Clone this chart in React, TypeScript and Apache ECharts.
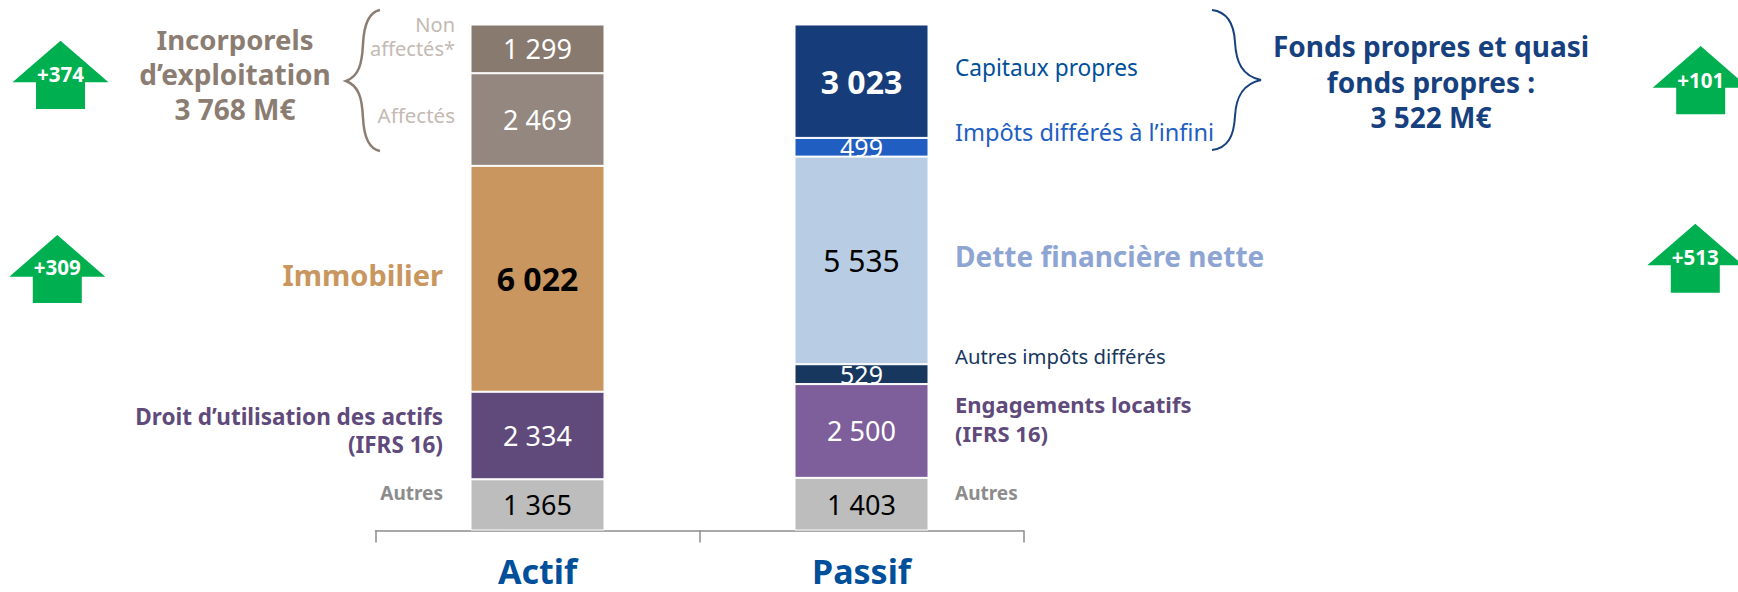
import React, { useEffect, useRef } from "react";
import * as echarts from "echarts";

const categories = ["Actif", "Passif"];
const actifNames = ["Autres", "Droit d'utilisation des actifs (IFRS 16)", "Immobilier", "Affectés", "Non affectés*"];
const actifValues = [1365, 2334, 6022, 2469, 1299];
const actifColors = ["#BDBDBD", "#604A7B", "#C99660", "#93877F", "#887A6F"];
const actifLabelColors = ["#000", "#fff", "#000", "#fff", "#fff"];
const actifBold = [false, false, true, false, false];
const actifSizes = [27, 27, 32, 27, 27];
const passifNames = ["Autres", "Engagements locatifs (IFRS 16)", "Autres impôts différés", "Dette financière nette", "Impôts différés à l'infini", "Capitaux propres"];
const passifValues = [1403, 2500, 529, 5535, 499, 3023];
const passifColors = ["#BDBDBD", "#7F5F9B", "#17375E", "#B8CCE4", "#215EC2", "#163C7A"];
const passifLabelColors = ["#000", "#fff", "#fff", "#000", "#fff", "#fff"];
const passifBold = [false, false, false, false, false, true];
const passifSizes = [27, 27, 25, 30, 25, 32];

const FONT = '"Noto Sans", sans-serif';
const fmt = (v: number) => String(v).replace(/\B(?=(\d{3})+$)/g, " ");

echarts.graphic.registerShape(
  "braceLeft",
  echarts.graphic.extendPath(
    "M380 10 C369 12 364 24 363 44 C362 64 359 76 346 81 C359 86 362 98 363 118 C364 138 369 149 380 151",
    {}
  )
);
echarts.graphic.registerShape(
  "braceRight",
  echarts.graphic.extendPath(
    "M1212 10 C1228 12 1234 24 1235 42 C1236 62 1242 76 1261 80 C1242 84 1236 98 1235 116 C1234 136 1228 148 1212 150",
    {}
  )
);

const txt = (text: string, x: number, y: number, size: number, fill: string, align = "left", bold = false) => ({
  type: "text",
  x,
  y,
  silent: true,
  style: { text, fill, fontSize: size, fontFamily: FONT, fontWeight: bold ? "bold" : "normal", align, verticalAlign: "middle" },
});

const arrow = (cx: number, top: number, wing: number, bottom: number, label: string, labelY: number) => [
  {
    type: "polygon",
    silent: true,
    shape: {
      points: [
        [cx, top],
        [cx + 48, wing],
        [cx + 24.5, wing],
        [cx + 24.5, bottom],
        [cx - 24.5, bottom],
        [cx - 24.5, wing],
        [cx - 48, wing],
      ],
    },
    style: { fill: "#00B050" },
  },
  txt(label, cx, labelY, 20.5, "#fff", "center", true),
];

function barSeries(names: string[], values: number[], colors: string[], labelColors: string[], bold: boolean[], sizes: number[], idx: number) {
  return values.map((v, i) => ({
    name: names[i],
    type: "bar",
    stack: "total",
    barWidth: 134,
    data: categories.map((_, c) => (c === idx ? v : null)),
    itemStyle: { color: colors[i], borderColor: "#fff", borderWidth: 1 },
    label: {
      show: true,
      position: "inside",
      formatter: (p: any) => fmt(p.value),
      color: labelColors[i],
      fontFamily: FONT,
      fontSize: sizes[i],
      fontWeight: bold[i] ? "bold" : "normal",
    },
  }));
}

export default function App() {
  const ref = useRef<HTMLDivElement>(null);
  useEffect(() => {
    document.body.style.margin = "0";
    const chart = echarts.init(ref.current!, undefined, { renderer: "svg" });
    chart.setOption({
      animation: false,
      backgroundColor: "#fff",
      grid: { left: 375.5, width: 648, top: 24.5, height: 506 },
      xAxis: {
        type: "category",
        data: categories,
        axisLine: { lineStyle: { color: "#8C8C8C", width: 1.5 } },
        axisTick: { show: true, length: 12, lineStyle: { color: "#8C8C8C", width: 1.5 } },
        axisLabel: { color: "#004F9B", fontFamily: FONT, fontWeight: "bold", fontSize: 34, margin: 23 },
      },
      yAxis: { type: "value", min: 0, max: 13489, show: false },
      series: [
        ...barSeries(actifNames, actifValues, actifColors, actifLabelColors, actifBold, actifSizes, 0),
        ...barSeries(passifNames, passifValues, passifColors, passifLabelColors, passifBold, passifSizes, 1),
      ],
      graphic: [
        ...arrow(60.5, 40.7, 82.3, 109, "+374", 74),
        ...arrow(57.3, 235, 276.7, 303, "+309", 267),
        ...arrow(1700.7, 46, 87.7, 114.3, "+101", 79.5),
        ...arrow(1695.3, 223.7, 265.3, 292.7, "+513", 257),
        { type: "braceLeft", silent: true, style: { fill: "none", stroke: "#8B7D72", lineWidth: 2.5 } },
        { type: "braceRight", silent: true, style: { fill: "none", stroke: "#17407F", lineWidth: 2 } },
        txt("Incorporels", 235, 39, 27.5, "#8B7D72", "center", true),
        txt("d’exploitation", 235, 74, 28, "#8B7D72", "center", true),
        txt("3 768 M€", 235, 109, 28, "#8B7D72", "center", true),
        txt("Non", 455, 24, 20, "#C4B9B3", "right"),
        txt("affectés*", 455, 48, 20, "#C4B9B3", "right"),
        txt("Affectés", 455, 115, 20.5, "#C4B9B3", "right"),
        txt("Immobilier", 443, 274, 29, "#C99660", "right", true),
        txt("Droit d’utilisation des actifs", 443, 416, 22.5, "#604A7B", "right", true),
        txt("(IFRS 16)", 443, 444, 22.5, "#604A7B", "right", true),
        txt("Autres", 443, 493, 19, "#8C8C8C", "right", true),
        txt("Capitaux propres", 955, 67.5, 22.7, "#004F9B"),
        txt("Impôts différés à l’infini", 955, 132, 23.5, "#215EC2"),
        txt("Dette financière nette", 955, 255.5, 28, "#8EA5D4", "left", true),
        txt("Autres impôts différés", 955, 356, 20.3, "#17375E"),
        txt("Engagements locatifs", 955, 404, 22, "#604A7B", "left", true),
        txt("(IFRS 16)", 955, 433, 22, "#604A7B", "left", true),
        txt("Autres", 955, 493, 19, "#8C8C8C", "left", true),
        txt("Fonds propres et quasi", 1431, 46, 28, "#17407F", "center", true),
        txt("fonds propres :", 1431, 82, 28, "#17407F", "center", true),
        txt("3 522 M€", 1431, 117, 28, "#17407F", "center", true),
      ],
    });
    return () => chart.dispose();
  }, []);
  return <div ref={ref} style={{ width: 1738, height: 592 }} />;
}
